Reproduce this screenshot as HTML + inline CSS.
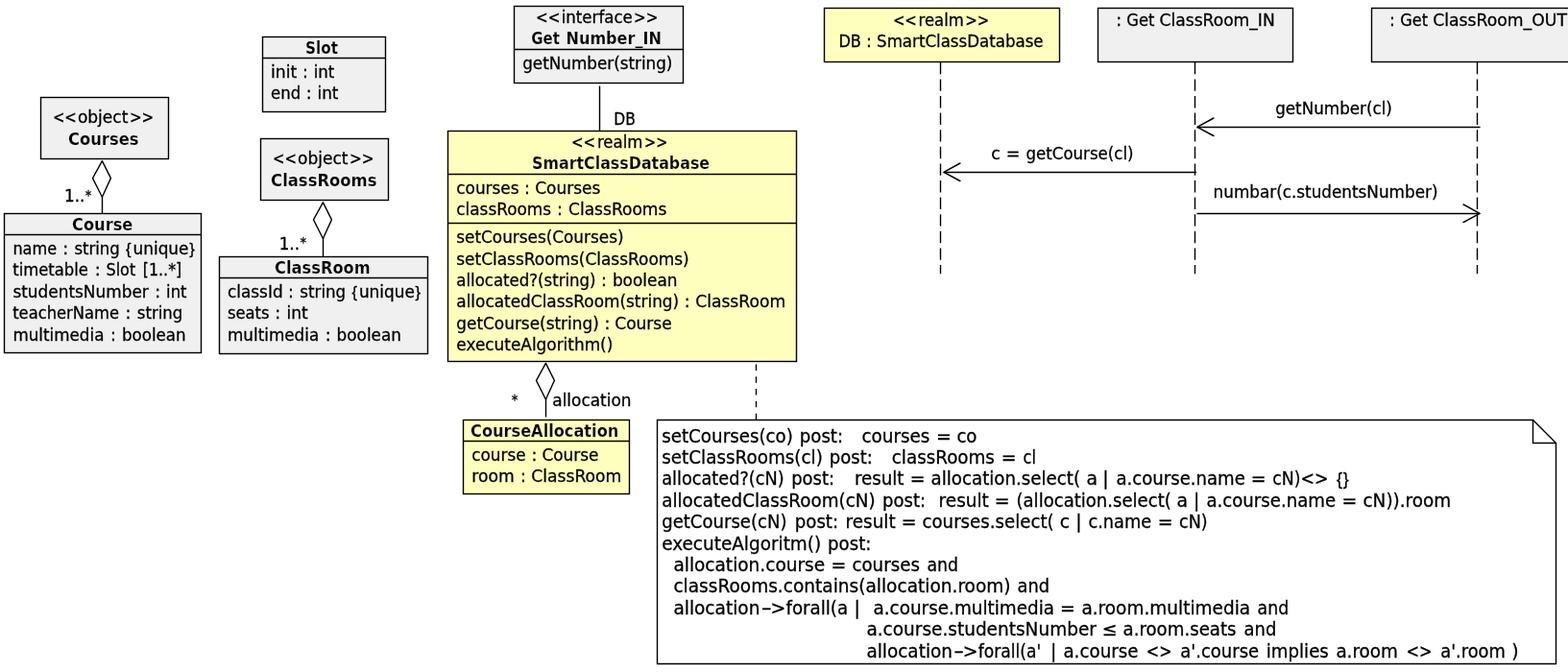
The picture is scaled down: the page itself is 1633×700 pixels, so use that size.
<!DOCTYPE html>
<html lang="en">
<head>
<meta charset="utf-8">
<title>SmartClassDatabase UML</title>
<style>
html,body{margin:0;padding:0;background:#fff;}
body{width:1633px;height:700px;overflow:hidden;}
svg{display:block;will-change:transform;}
svg text{font-family:"DejaVu Sans","Liberation Sans",sans-serif;fill:#000;white-space:pre;}
svg text.r{stroke:#000;stroke-width:0.3px;}
</style>
</head>
<body>
<svg width="1633" height="700" viewBox="0 0 1633 700">
<rect x="0" y="0" width="1633" height="700" fill="#fff"/>
<rect x="42.5" y="101.5" width="133.00" height="64.00" fill="#f0f0f0" stroke="#000" stroke-width="1.4"/>
<text y="128.15" font-size="17.5" class="r"><tspan x="54.90" textLength="24.90" lengthAdjust="spacingAndGlyphs">&lt;&lt;</tspan><tspan x="80.90" textLength="52.49" lengthAdjust="spacingAndGlyphs">object</tspan><tspan x="134.90" textLength="25.30" lengthAdjust="spacingAndGlyphs">&gt;&gt;</tspan></text>
<text y="151.35" font-size="17.5" font-weight="bold" stroke="#f0f0f0" stroke-width="0.2"><tspan x="70.90" textLength="73.59" lengthAdjust="spacingAndGlyphs">Courses</tspan></text>
<polygon points="106.40,167.60 115.40,185.60 106.40,205.20 96.50,185.60" fill="#fff" stroke="#000" stroke-width="1.35" stroke-linejoin="round"/>
<line x1="106.5" y1="205.2" x2="106.5" y2="222" stroke="#000" stroke-width="1.4"/>
<text y="210.25" font-size="17.5" class="r"><tspan x="67.00" textLength="21.30" lengthAdjust="spacingAndGlyphs">1..</tspan><tspan x="88.85" font-size="13.2" dy="-2.7">*</tspan></text>
<rect x="4.5" y="222.5" width="205.00" height="145.00" fill="#f0f0f0" stroke="#000" stroke-width="1.4"/>
<line x1="4.5" y1="244.5" x2="209.5" y2="244.5" stroke="#000" stroke-width="1.4"/>
<text y="240.15" font-size="17.5" font-weight="bold" stroke="#f0f0f0" stroke-width="0.2"><tspan x="75.10" textLength="63.21" lengthAdjust="spacingAndGlyphs">Course</tspan></text>
<text y="265.05" font-size="17.5" class="r"><tspan x="13.40" textLength="45.70" lengthAdjust="spacingAndGlyphs">name</tspan> <tspan x="65.20">:</tspan> <tspan x="77.40" textLength="47.39" lengthAdjust="spacingAndGlyphs">string</tspan> <tspan x="131.04" font-family="Liberation Sans, sans-serif" font-size="16.5">{</tspan><tspan x="138.50" textLength="58.00" lengthAdjust="spacingAndGlyphs">unique</tspan><tspan x="197.14" font-family="Liberation Sans, sans-serif" font-size="16.5">}</tspan></text>
<text y="287.25" font-size="17.5" class="r"><tspan x="13.20" textLength="78.70" lengthAdjust="spacingAndGlyphs">timetable</tspan> <tspan x="98.75">:</tspan> <tspan x="110.50" textLength="30.69" lengthAdjust="spacingAndGlyphs">Slot</tspan> <tspan x="148.80" textLength="40.50" lengthAdjust="spacingAndGlyphs">[1..*]</tspan></text>
<text y="309.75" font-size="17.5" class="r"><tspan x="13.40" textLength="141.38" lengthAdjust="spacingAndGlyphs">studentsNumber</tspan> <tspan x="161.35">:</tspan> <tspan x="173.10" textLength="21.40" lengthAdjust="spacingAndGlyphs">int</tspan></text>
<text y="331.95" font-size="17.5" class="r"><tspan x="13.20" textLength="110.91" lengthAdjust="spacingAndGlyphs">teacherName</tspan> <tspan x="130.60">:</tspan> <tspan x="142.80" textLength="47.59" lengthAdjust="spacingAndGlyphs">string</tspan></text>
<text y="355.05" font-size="17.5" class="r"><tspan x="13.40" textLength="95.01" lengthAdjust="spacingAndGlyphs">multimedia</tspan> <tspan x="114.90">:</tspan> <tspan x="126.90" textLength="66.70" lengthAdjust="spacingAndGlyphs">boolean</tspan></text>
<rect x="273.5" y="38.5" width="128.00" height="78.00" fill="#f0f0f0" stroke="#000" stroke-width="1.4"/>
<line x1="273.5" y1="60.5" x2="401.5" y2="60.5" stroke="#000" stroke-width="1.4"/>
<text y="56.05" font-size="17.5" font-weight="bold" stroke="#f0f0f0" stroke-width="0.2"><tspan x="318.10" textLength="33.90" lengthAdjust="spacingAndGlyphs">Slot</tspan></text>
<text y="81.15" font-size="17.5" class="r"><tspan x="282.10" textLength="27.19" lengthAdjust="spacingAndGlyphs">init</tspan> <tspan x="314.90">:</tspan> <tspan x="326.70" textLength="21.70" lengthAdjust="spacingAndGlyphs">int</tspan></text>
<text y="103.15" font-size="17.5" class="r"><tspan x="282.10" textLength="31.10" lengthAdjust="spacingAndGlyphs">end</tspan> <tspan x="318.85">:</tspan> <tspan x="330.50" textLength="22.00" lengthAdjust="spacingAndGlyphs">int</tspan></text>
<rect x="271.5" y="144.5" width="133.00" height="64.00" fill="#f0f0f0" stroke="#000" stroke-width="1.4"/>
<text y="171.35" font-size="17.5" class="r"><tspan x="284.00" textLength="24.90" lengthAdjust="spacingAndGlyphs">&lt;&lt;</tspan><tspan x="310.00" textLength="52.49" lengthAdjust="spacingAndGlyphs">object</tspan><tspan x="364.00" textLength="25.50" lengthAdjust="spacingAndGlyphs">&gt;&gt;</tspan></text>
<text y="194.25" font-size="17.5" font-weight="bold" stroke="#f0f0f0" stroke-width="0.2"><tspan x="282.10" textLength="110.40" lengthAdjust="spacingAndGlyphs">ClassRooms</tspan></text>
<polygon points="336.40,210.90 345.40,228.90 336.40,248.50 326.50,228.90" fill="#fff" stroke="#000" stroke-width="1.35" stroke-linejoin="round"/>
<line x1="336.5" y1="247.6" x2="336.5" y2="267" stroke="#000" stroke-width="1.4"/>
<text y="260.15" font-size="17.5" class="r"><tspan x="290.70" textLength="21.30" lengthAdjust="spacingAndGlyphs">1..</tspan><tspan x="312.55" font-size="13.2" dy="-2.7">*</tspan></text>
<rect x="228.5" y="267.5" width="217.00" height="101.00" fill="#f0f0f0" stroke="#000" stroke-width="1.4"/>
<line x1="228.5" y1="289.5" x2="445.5" y2="289.5" stroke="#000" stroke-width="1.4"/>
<text y="285.05" font-size="17.5" font-weight="bold" stroke="#f0f0f0" stroke-width="0.2"><tspan x="286.10" textLength="99.60" lengthAdjust="spacingAndGlyphs">ClassRoom</tspan></text>
<text y="310.35" font-size="17.5" class="r"><tspan x="237.00" textLength="57.60" lengthAdjust="spacingAndGlyphs">classId</tspan> <tspan x="299.95">:</tspan> <tspan x="312.30" textLength="47.89" lengthAdjust="spacingAndGlyphs">string</tspan> <tspan x="366.44" font-family="Liberation Sans, sans-serif" font-size="16.5">{</tspan><tspan x="373.90" textLength="58.00" lengthAdjust="spacingAndGlyphs">unique</tspan><tspan x="432.54" font-family="Liberation Sans, sans-serif" font-size="16.5">}</tspan></text>
<text y="332.45" font-size="17.5" class="r"><tspan x="237.00" textLength="43.40" lengthAdjust="spacingAndGlyphs">seats</tspan> <tspan x="286.35">:</tspan> <tspan x="298.60" textLength="22.20" lengthAdjust="spacingAndGlyphs">int</tspan></text>
<text y="355.05" font-size="17.5" class="r"><tspan x="237.00" textLength="95.21" lengthAdjust="spacingAndGlyphs">multimedia</tspan> <tspan x="338.75">:</tspan> <tspan x="350.60" textLength="67.30" lengthAdjust="spacingAndGlyphs">boolean</tspan></text>
<rect x="535.5" y="6.5" width="176.00" height="80.00" fill="#f0f0f0" stroke="#000" stroke-width="1.4"/>
<line x1="535.5" y1="51.5" x2="711.5" y2="51.5" stroke="#000" stroke-width="1.4"/>
<text y="23.85" font-size="17.5" class="r"><tspan x="558.00" textLength="25.30" lengthAdjust="spacingAndGlyphs">&lt;&lt;</tspan><tspan x="584.70" textLength="74.10" lengthAdjust="spacingAndGlyphs">interface</tspan><tspan x="660.00" textLength="25.30" lengthAdjust="spacingAndGlyphs">&gt;&gt;</tspan></text>
<text y="46.05" font-size="17.5" font-weight="bold" stroke="#f0f0f0" stroke-width="0.2"><tspan x="553.20" textLength="29.70" lengthAdjust="spacingAndGlyphs">Get</tspan> <tspan x="589.50" textLength="99.40" lengthAdjust="spacingAndGlyphs">Number_IN</tspan></text>
<text y="71.85" font-size="17.5" class="r"><tspan x="544.20" textLength="156.20" lengthAdjust="spacingAndGlyphs">getNumber(string)</tspan></text>
<line x1="624.5" y1="89.5" x2="624.5" y2="136" stroke="#000" stroke-width="1.4"/>
<text y="130.15" font-size="17.5" class="r"><tspan x="639.30" textLength="22.50" lengthAdjust="spacingAndGlyphs">DB</tspan></text>
<rect x="466.5" y="136.5" width="363.00" height="240.00" fill="#ffffbd" stroke="#000" stroke-width="1.4"/>
<line x1="466.5" y1="181.5" x2="829.5" y2="181.5" stroke="#000" stroke-width="1.4"/>
<line x1="466.5" y1="232.5" x2="829.5" y2="232.5" stroke="#000" stroke-width="1.4"/>
<text y="154.05" font-size="17.5" class="r"><tspan x="594.90" textLength="25.10" lengthAdjust="spacingAndGlyphs">&lt;&lt;</tspan><tspan x="621.90" textLength="47.50" lengthAdjust="spacingAndGlyphs">realm</tspan><tspan x="671.10" textLength="24.30" lengthAdjust="spacingAndGlyphs">&gt;&gt;</tspan></text>
<text y="175.95" font-size="17.5" font-weight="bold" stroke="#ffffbd" stroke-width="0.2"><tspan x="554.10" textLength="185.00" lengthAdjust="spacingAndGlyphs">SmartClassDatabase</tspan></text>
<text y="201.75" font-size="17.5" class="r"><tspan x="475.30" textLength="65.20" lengthAdjust="spacingAndGlyphs">courses</tspan> <tspan x="545.90">:</tspan> <tspan x="557.20" textLength="68.10" lengthAdjust="spacingAndGlyphs">Courses</tspan></text>
<text y="223.95" font-size="17.5" class="r"><tspan x="475.30" textLength="98.70" lengthAdjust="spacingAndGlyphs">classRooms</tspan> <tspan x="580.05">:</tspan> <tspan x="592.00" textLength="102.39" lengthAdjust="spacingAndGlyphs">ClassRooms</tspan></text>
<text y="252.95" font-size="17.5" class="r"><tspan x="475.30" textLength="174.20" lengthAdjust="spacingAndGlyphs">setCourses(Courses)</tspan></text>
<text y="275.65" font-size="17.5" class="r"><tspan x="475.30" textLength="242.39" lengthAdjust="spacingAndGlyphs">setClassRooms(ClassRooms)</tspan></text>
<text y="297.95" font-size="17.5" class="r"><tspan x="475.30" textLength="145.29" lengthAdjust="spacingAndGlyphs">allocated?(string)</tspan> <tspan x="625.95">:</tspan> <tspan x="637.90" textLength="67.60" lengthAdjust="spacingAndGlyphs">boolean</tspan></text>
<text y="320.25" font-size="17.5" class="r"><tspan x="475.30" textLength="231.91" lengthAdjust="spacingAndGlyphs">allocatedClassRoom(string)</tspan> <tspan x="712.85">:</tspan> <tspan x="724.20" textLength="93.89" lengthAdjust="spacingAndGlyphs">ClassRoom</tspan></text>
<text y="342.85" font-size="17.5" class="r"><tspan x="475.30" textLength="148.50" lengthAdjust="spacingAndGlyphs">getCourse(string)</tspan> <tspan x="629.45">:</tspan> <tspan x="640.30" textLength="59.40" lengthAdjust="spacingAndGlyphs">Course</tspan></text>
<text y="365.05" font-size="17.5" class="r"><tspan x="475.30" textLength="162.99" lengthAdjust="spacingAndGlyphs">executeAlgorithm()</tspan></text>
<polygon points="568.40,378.40 577.40,396.40 568.40,416.00 558.50,396.40" fill="#fff" stroke="#000" stroke-width="1.35" stroke-linejoin="round"/>
<line x1="568.5" y1="415.1" x2="568.5" y2="434.5" stroke="#000" stroke-width="1.4"/>
<text y="423.25" font-size="17.5" class="r"><tspan x="532.85" font-size="13.2" dy="-2.5">*</tspan></text>
<text y="423.25" font-size="17.5" class="r"><tspan x="575.30" textLength="82.21" lengthAdjust="spacingAndGlyphs">allocation</tspan></text>
<line x1="787.5" y1="379.5" x2="787.5" y2="437" stroke="#000" stroke-width="1.35" stroke-dasharray="6.4 6.4" stroke-dashoffset="0"/>
<rect x="482.5" y="437.5" width="173.00" height="77.00" fill="#ffffbd" stroke="#000" stroke-width="1.4"/>
<line x1="482.5" y1="459.5" x2="655.5" y2="459.5" stroke="#000" stroke-width="1.4"/>
<text y="455.35" font-size="17.5" font-weight="bold" stroke="#ffffbd" stroke-width="0.2"><tspan x="490.00" textLength="154.30" lengthAdjust="spacingAndGlyphs">CourseAllocation</tspan></text>
<text y="479.95" font-size="17.5" class="r"><tspan x="491.30" textLength="56.20" lengthAdjust="spacingAndGlyphs">course</tspan> <tspan x="553.45">:</tspan> <tspan x="564.40" textLength="59.10" lengthAdjust="spacingAndGlyphs">Course</tspan></text>
<text y="501.85" font-size="17.5" class="r"><tspan x="491.30" textLength="44.40" lengthAdjust="spacingAndGlyphs">room</tspan> <tspan x="542.05">:</tspan> <tspan x="553.30" textLength="93.89" lengthAdjust="spacingAndGlyphs">ClassRoom</tspan></text>
<polygon points="684.5,437.5 1596.5,437.5 1620.5,461.5 1620.5,691.5 684.5,691.5" fill="#fff" stroke="#000" stroke-width="1.4" stroke-linejoin="miter"/>
<polyline points="1596.5,437.5 1596.5,461.5 1620.5,461.5" fill="none" stroke="#000" stroke-width="1.4" stroke-linejoin="miter"/>
<text y="460.95" font-size="18.85" class="r"><tspan x="689.20" textLength="136.71" lengthAdjust="spacingAndGlyphs">setCourses(co)</tspan> <tspan x="832.80" textLength="45.29" lengthAdjust="spacingAndGlyphs">post:</tspan>   <tspan x="897.40" textLength="71.00" lengthAdjust="spacingAndGlyphs">courses</tspan> <tspan x="974.95">=</tspan> <tspan x="996.40" textLength="21.09" lengthAdjust="spacingAndGlyphs">co</tspan></text>
<text y="483.05" font-size="18.85" class="r"><tspan x="689.20" textLength="167.70" lengthAdjust="spacingAndGlyphs">setClassRooms(cl)</tspan> <tspan x="863.80" textLength="44.99" lengthAdjust="spacingAndGlyphs">post:</tspan>   <tspan x="928.80" textLength="107.10" lengthAdjust="spacingAndGlyphs">classRooms</tspan> <tspan x="1042.80">=</tspan> <tspan x="1065.50" textLength="13.49" lengthAdjust="spacingAndGlyphs">cl</tspan></text>
<text y="505.05" font-size="18.85" class="r"><tspan x="689.20" textLength="127.40" lengthAdjust="spacingAndGlyphs">allocated?(cN)</tspan> <tspan x="824.20" textLength="44.89" lengthAdjust="spacingAndGlyphs">post:</tspan>   <tspan x="889.90" textLength="51.60" lengthAdjust="spacingAndGlyphs">result</tspan> <tspan x="947.80">=</tspan> <tspan x="969.50" textLength="155.59" lengthAdjust="spacingAndGlyphs">allocation.select(</tspan> <tspan x="1131.52">a</tspan> <tspan x="1148.37">|</tspan> <tspan x="1162.40" textLength="134.51" lengthAdjust="spacingAndGlyphs">a.course.name</tspan> <tspan x="1302.80">=</tspan> <tspan x="1325.20" textLength="58.20" lengthAdjust="spacingAndGlyphs">cN)&lt;&gt;</tspan> <tspan x="1392.03" font-family="Liberation Sans, sans-serif" font-size="17.8">{</tspan><tspan x="1398.63" font-family="Liberation Sans, sans-serif" font-size="17.8">}</tspan></text>
<text y="527.55" font-size="18.85" class="r"><tspan x="689.20" textLength="222.39" lengthAdjust="spacingAndGlyphs">allocatedClassRoom(cN)</tspan> <tspan x="919.10" textLength="44.99" lengthAdjust="spacingAndGlyphs">post:</tspan>  <tspan x="977.60" textLength="52.20" lengthAdjust="spacingAndGlyphs">result</tspan> <tspan x="1035.85">=</tspan> <tspan x="1058.50" textLength="161.30" lengthAdjust="spacingAndGlyphs">(allocation.select(</tspan> <tspan x="1225.42">a</tspan> <tspan x="1243.07">|</tspan> <tspan x="1256.40" textLength="134.81" lengthAdjust="spacingAndGlyphs">a.course.name</tspan> <tspan x="1397.40">=</tspan> <tspan x="1419.50" textLength="91.70" lengthAdjust="spacingAndGlyphs">cN)).room</tspan></text>
<text y="549.85" font-size="18.85" class="r"><tspan x="689.20" textLength="130.31" lengthAdjust="spacingAndGlyphs">getCourse(cN)</tspan> <tspan x="827.80" textLength="45.29" lengthAdjust="spacingAndGlyphs">post:</tspan> <tspan x="880.60" textLength="52.00" lengthAdjust="spacingAndGlyphs">result</tspan> <tspan x="938.80">=</tspan> <tspan x="960.50" textLength="137.10" lengthAdjust="spacingAndGlyphs">courses.select(</tspan> <tspan x="1103.87">c</tspan> <tspan x="1120.27">|</tspan> <tspan x="1133.40" textLength="65.69" lengthAdjust="spacingAndGlyphs">c.name</tspan> <tspan x="1205.70">=</tspan> <tspan x="1228.10" textLength="29.60" lengthAdjust="spacingAndGlyphs">cN)</tspan></text>
<text y="573.15" font-size="18.85" class="r"><tspan x="689.20" textLength="166.00" lengthAdjust="spacingAndGlyphs">executeAlgoritm()</tspan> <tspan x="862.10" textLength="45.29" lengthAdjust="spacingAndGlyphs">post:</tspan></text>
<text y="595.15" font-size="18.85" class="r">  <tspan x="701.40" textLength="157.70" lengthAdjust="spacingAndGlyphs">allocation.course</tspan> <tspan x="865.40">=</tspan> <tspan x="887.40" textLength="70.50" lengthAdjust="spacingAndGlyphs">courses</tspan> <tspan x="965.50" textLength="32.61" lengthAdjust="spacingAndGlyphs">and</tspan></text>
<text y="617.35" font-size="18.85" class="r">  <tspan x="701.40" textLength="351.21" lengthAdjust="spacingAndGlyphs">classRooms.contains(allocation.room)</tspan> <tspan x="1059.50" textLength="33.61" lengthAdjust="spacingAndGlyphs">and</tspan></text>
<text y="640.25" font-size="18.85" class="r">  <tspan x="701.40" textLength="90.01" lengthAdjust="spacingAndGlyphs">allocation</tspan><tspan x="792.80" textLength="11.00" lengthAdjust="spacingAndGlyphs">-</tspan><tspan x="802.50">&gt;</tspan><tspan x="818.50" textLength="64.61" lengthAdjust="spacingAndGlyphs">forall(a</tspan> <tspan x="889.57">|</tspan>  <tspan x="909.50" textLength="188.60" lengthAdjust="spacingAndGlyphs">a.course.multimedia</tspan> <tspan x="1104.00">=</tspan> <tspan x="1126.40" textLength="175.80" lengthAdjust="spacingAndGlyphs">a.room.multimedia</tspan> <tspan x="1309.50" textLength="32.71" lengthAdjust="spacingAndGlyphs">and</tspan></text>
<text y="662.35" font-size="18.85" class="r">                                     <tspan x="902.40" textLength="239.49" lengthAdjust="spacingAndGlyphs">a.course.studentsNumber</tspan> <tspan x="1147.80">≤</tspan> <tspan x="1169.50" textLength="118.09" lengthAdjust="spacingAndGlyphs">a.room.seats</tspan> <tspan x="1295.50" textLength="33.81" lengthAdjust="spacingAndGlyphs">and</tspan></text>
<text y="684.95" font-size="18.85" class="r">                                     <tspan x="902.40" textLength="89.61" lengthAdjust="spacingAndGlyphs">allocation</tspan><tspan x="993.30" textLength="10.80" lengthAdjust="spacingAndGlyphs">-</tspan><tspan x="1002.80">&gt;</tspan><tspan x="1018.80" textLength="65.31" lengthAdjust="spacingAndGlyphs">forall(a&#x27;</tspan> <tspan x="1094.07">|</tspan> <tspan x="1107.40" textLength="78.11" lengthAdjust="spacingAndGlyphs">a.course</tspan> <tspan x="1193.80" textLength="26.70" lengthAdjust="spacingAndGlyphs">&lt;&gt;</tspan> <tspan x="1229.20" textLength="82.01" lengthAdjust="spacingAndGlyphs">a&#x27;.course</tspan> <tspan x="1318.80" textLength="64.99" lengthAdjust="spacingAndGlyphs">implies</tspan> <tspan x="1391.40" textLength="64.49" lengthAdjust="spacingAndGlyphs">a.room</tspan> <tspan x="1464.50" textLength="27.00" lengthAdjust="spacingAndGlyphs">&lt;&gt;</tspan> <tspan x="1500.20" textLength="67.69" lengthAdjust="spacingAndGlyphs">a&#x27;.room</tspan> <tspan x="1574.32">)</tspan></text>
<rect x="858.5" y="8.5" width="245.00" height="56.00" fill="#ffffbd" stroke="#000" stroke-width="1.4"/>
<text y="26.65" font-size="17.5" class="r"><tspan x="929.90" textLength="24.90" lengthAdjust="spacingAndGlyphs">&lt;&lt;</tspan><tspan x="956.60" textLength="47.20" lengthAdjust="spacingAndGlyphs">realm</tspan><tspan x="1005.20" textLength="25.00" lengthAdjust="spacingAndGlyphs">&gt;&gt;</tspan></text>
<text y="49.15" font-size="17.5" class="r"><tspan x="873.40" textLength="23.50" lengthAdjust="spacingAndGlyphs">DB</tspan> <tspan x="902.10">:</tspan> <tspan x="913.10" textLength="173.50" lengthAdjust="spacingAndGlyphs">SmartClassDatabase</tspan></text>
<rect x="1143.5" y="8.5" width="203.00" height="56.00" fill="#f0f0f0" stroke="#000" stroke-width="1.4"/>
<text y="26.65" font-size="17.5" class="r"><tspan x="1162.15">:</tspan> <tspan x="1173.30" textLength="29.10" lengthAdjust="spacingAndGlyphs">Get</tspan> <tspan x="1207.60" textLength="120.09" lengthAdjust="spacingAndGlyphs">ClassRoom_IN</tspan></text>
<rect x="1428.5" y="8.5" width="212.00" height="56.00" fill="#f0f0f0" stroke="#000" stroke-width="1.4"/>
<text y="26.65" font-size="17.5" class="r"><tspan x="1446.95">:</tspan> <tspan x="1458.20" textLength="28.80" lengthAdjust="spacingAndGlyphs">Get</tspan> <tspan x="1492.20" textLength="139.74" lengthAdjust="spacingAndGlyphs">ClassRoom_OUT</tspan></text>
<line x1="979.5" y1="64.8" x2="979.5" y2="285.3" stroke="#000" stroke-width="1.4" stroke-dasharray="12.4 5.2" stroke-dashoffset="0"/>
<line x1="1244.5" y1="64.8" x2="1244.5" y2="285.3" stroke="#000" stroke-width="1.4" stroke-dasharray="12.4 5.2" stroke-dashoffset="0"/>
<line x1="1538.5" y1="64.8" x2="1538.5" y2="285.3" stroke="#000" stroke-width="1.4" stroke-dasharray="12.4 5.2" stroke-dashoffset="0"/>
<line x1="1541.6" y1="132.4" x2="1246.9" y2="132.4" stroke="#000" stroke-width="1.5"/>
<polyline points="1263.90,123.00 1246.90,132.40 1263.90,141.50" fill="none" stroke="#000" stroke-width="1.5" stroke-linecap="round" stroke-linejoin="round"/>
<text y="119.25" font-size="17.5" class="r"><tspan x="1328.20" textLength="121.70" lengthAdjust="spacingAndGlyphs">getNumber(cl)</tspan></text>
<line x1="1246.0" y1="179.4" x2="982.9" y2="179.4" stroke="#000" stroke-width="1.5"/>
<polyline points="999.90,170.00 982.90,179.40 999.90,188.50" fill="none" stroke="#000" stroke-width="1.5" stroke-linecap="round" stroke-linejoin="round"/>
<text y="165.85" font-size="17.5" class="r"><tspan x="1032.24">c</tspan> <tspan x="1047.87">=</tspan> <tspan x="1068.50" textLength="112.00" lengthAdjust="spacingAndGlyphs">getCourse(cl)</tspan></text>
<line x1="1246.5" y1="222.4" x2="1541.1" y2="222.4" stroke="#000" stroke-width="1.5"/>
<polyline points="1524.10,213.00 1541.10,222.40 1524.10,231.50" fill="none" stroke="#000" stroke-width="1.5" stroke-linecap="round" stroke-linejoin="round"/>
<text y="206.15" font-size="17.5" class="r"><tspan x="1263.60" textLength="233.90" lengthAdjust="spacingAndGlyphs">numbar(c.studentsNumber)</tspan></text>
</svg>
</body>
</html>
